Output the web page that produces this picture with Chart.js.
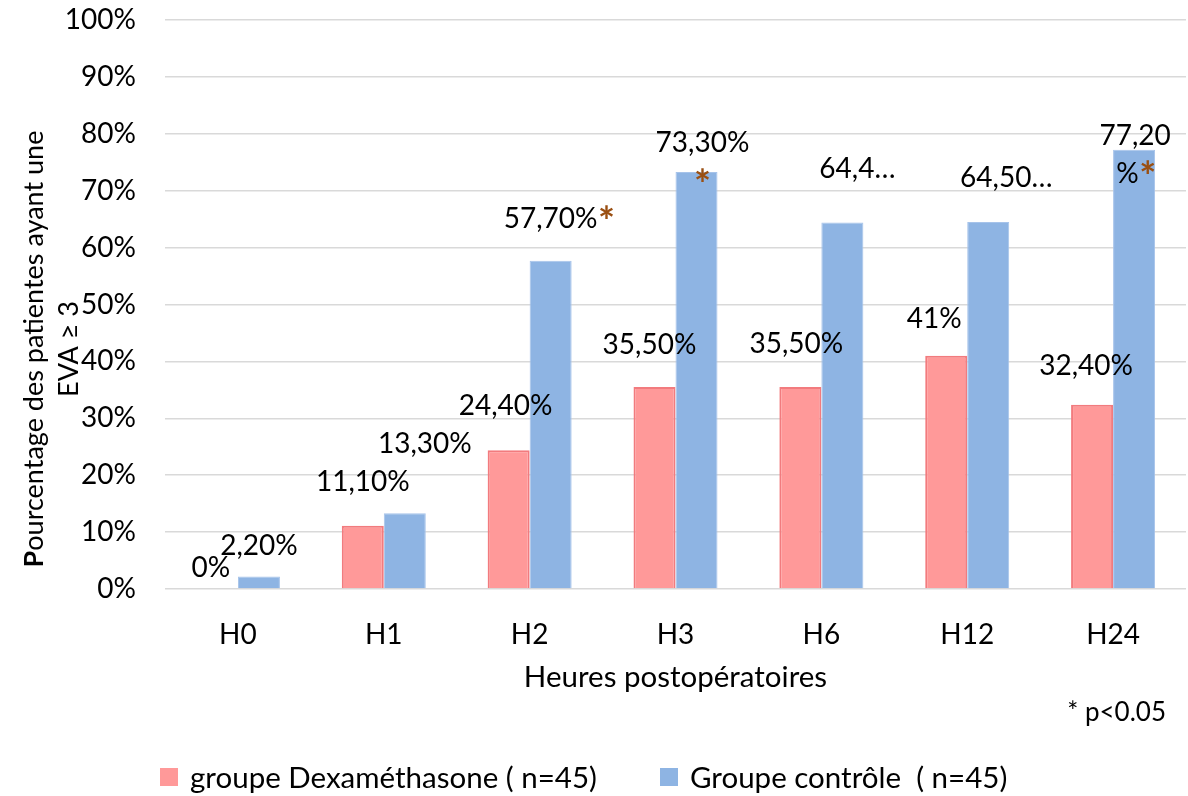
<!DOCTYPE html>
<html>
<head>
<meta charset="utf-8">
<script src="https://cdn.jsdelivr.net/npm/chart.js@4.4.0/dist/chart.umd.min.js"></script>
<style>
  html, body { margin: 0; padding: 0; background: #ffffff; }
  #wrap { width: 1188px; height: 796px; }
</style>
</head>
<body>
<div id="wrap"><canvas id="chart" width="1188" height="796"></canvas></div>
<script>
// Categories and series values (percent of patients with EVA >= 3)
const categories = ['H0', 'H1', 'H2', 'H3', 'H6', 'H12', 'H24'];
const dexamethasone = [0, 11.1, 24.4, 35.5, 35.5, 41, 32.4];
const controle = [2.2, 13.3, 57.7, 73.3, 64.4, 64.5, 77.2];
const controleSignificatif = [false, false, true, true, false, false, true];
const yTicks = [0, 10, 20, 30, 40, 50, 60, 70, 80, 90, 100];
const seriesNames = ['groupe Dexaméthasone ( n=45)', 'Groupe contrôle  ( n=45)'];
const axisTitleX = 'Heures postopératoires';
const axisTitleY = ['Pourcentage des patientes ayant une', 'EVA \u2265 3'];
const noteText = '* p<0.05';

// Styling
const FONT = 'Lato, "Open Sans", sans-serif';
const FS = 28;          // ticks and value labels
const FS_TEXT = 29.5;   // x title and legend
const FS_YTITLE = 27;
const TEXT = '#000000';
const STAR = '#9A4F12';
const RED_FILL = '#FF9999', RED_EDGE = '#F27B7E';
const BLUE_FILL = '#8EB4E3', BLUE_EDGE = '#A6C3EA';

// Label anchor offsets [dx, dy to baseline] from each bar's top centre
const dexLabelPos = [[-6, -12], [0, -35], [-3, -35], [-5, -33], [-4, -34], [-12, -28], [-6, -30]];
const ctrlLabelPos = [[0, -21.5], [20, -60], [0, -33], [6, -20], [15, -44.6], [18, -35], [1, -5]];
// How the narrow label boxes show some control values
const ctrlLabelFit = [null, null, null, null, {cut: 4}, {cut: 5}, {wrap: 5}];
const starPlacement = [null, null, 'after', 'below', null, null, 'after'];

function pct(v) {
  return Number.isInteger(v) ? v + '%' : v.toFixed(2).replace('.', ',') + '%';
}

// Draws a bold brown asterisk with its glyph box centred on (cx, cy)
function drawStar(ctx, cx, cy) {
  ctx.save();
  ctx.font = `bold 40px ${FONT}`;
  ctx.fillStyle = STAR;
  ctx.textAlign = 'left';
  ctx.textBaseline = 'alphabetic';
  const m = ctx.measureText('*');
  const w = m.actualBoundingBoxRight + m.actualBoundingBoxLeft;
  const h = m.actualBoundingBoxAscent + m.actualBoundingBoxDescent;
  const x = cx - w / 2 + m.actualBoundingBoxLeft;
  const y = cy + h / 2 - m.actualBoundingBoxDescent;
  ctx.fillText('*', x, y);
  ctx.restore();
}

const labelsPlugin = {
  id: 'valueLabels',
  afterDatasetsDraw(chart) {
    const ctx = chart.ctx;
    ctx.save();
    ctx.textBaseline = 'alphabetic';
    ctx.fillStyle = TEXT;
    const normal = `${FS}px ${FONT}`;

    // Dexaméthasone labels
    chart.getDatasetMeta(0).data.forEach((bar, i) => {
      const [dx, dy] = dexLabelPos[i];
      ctx.font = normal;
      ctx.textAlign = 'center';
      ctx.fillStyle = TEXT;
      ctx.fillText(pct(dexamethasone[i]), bar.x + dx, bar.y + dy);
    });

    // Control labels
    chart.getDatasetMeta(1).data.forEach((bar, i) => {
      const [dx, dy] = ctrlLabelPos[i];
      const cx = bar.x + dx, by = bar.y + dy;
      const full = pct(controle[i]);
      const fit = ctrlLabelFit[i];
      const star = controleSignificatif[i] ? starPlacement[i] : null;
      ctx.font = normal;
      ctx.textAlign = 'left';
      let lines;
      if (fit && fit.cut) lines = [full.slice(0, fit.cut) + '\u2026'];
      else if (fit && fit.wrap) lines = [full.slice(0, fit.wrap), full.slice(fit.wrap)];
      else lines = [full];

      lines.forEach((line, k) => {
        const y = by + k * 38;
        const isLast = k === lines.length - 1;
        ctx.font = normal;
        const w = ctx.measureText(line).width;
        const sw = (isLast && star === 'after') ? 15 : 0;
        const x0 = lines.length > 1 ? cx - (w + sw) / 2 : cx - w / 2;
        ctx.fillStyle = TEXT;
        ctx.fillText(line, x0, y);
        if (isLast && star === 'after') {
          drawStar(ctx, x0 + w + 9, y - 15.5);
        }
      });
      if (star === 'below') {
        drawStar(ctx, cx, bar.y + 3);
      }
    });
    ctx.restore();
  },
  afterDraw(chart) {
    const ctx = chart.ctx;
    ctx.save();
    ctx.fillStyle = TEXT;
    ctx.textBaseline = 'alphabetic';

    // Rotated y-axis title, first letter in bold
    const yc = 349;
    const fN = `${FS_YTITLE}px ${FONT}`, fB = `bold ${FS_YTITLE}px ${FONT}`;
    const drawRotated = (text, bx, boldFirst) => {
      ctx.save();
      ctx.translate(bx, yc);
      ctx.rotate(-Math.PI / 2);
      ctx.textAlign = 'left';
      if (boldFirst) {
        ctx.font = fB;
        const wb = ctx.measureText(text[0]).width;
        ctx.font = fN;
        const wr = ctx.measureText(text.slice(1)).width;
        const start = -(wb + wr) / 2;
        ctx.font = fB;
        ctx.fillText(text[0], start, 0);
        ctx.font = fN;
        ctx.fillText(text.slice(1), start + wb, 0);
      } else {
        ctx.font = fN;
        ctx.textAlign = 'center';
        ctx.fillText(text, 0, 0);
      }
      ctx.restore();
    };
    drawRotated(axisTitleY[0], 43, true);
    drawRotated(axisTitleY[1], 78, false);

    // Significance note
    ctx.font = `${FS - 2}px ${FONT}`;
    ctx.textAlign = 'right';
    ctx.fillText(noteText, 1166, 721);

    // Legend
    const items = [
      {x: 160, fill: RED_FILL, text: seriesNames[0]},
      {x: 660, fill: BLUE_FILL, text: seriesNames[1]}
    ];
    items.forEach(it => {
      ctx.fillStyle = it.fill;
      ctx.fillRect(it.x, 768, 18, 18);
      ctx.fillStyle = TEXT;
      ctx.font = `${FS_TEXT}px ${FONT}`;
      ctx.textAlign = 'left';
      ctx.fillText(it.text, it.x + 30, 788);
    });
    ctx.restore();
  }
};

new Chart(document.getElementById('chart'), {
  type: 'bar',
  data: {
    labels: categories,
    datasets: [
      {
        label: seriesNames[0],
        data: dexamethasone,
        backgroundColor: RED_FILL,
        borderColor: RED_EDGE,
        borderWidth: 2,
        barPercentage: 1,
        categoryPercentage: 0.576
      },
      {
        label: seriesNames[1],
        data: controle,
        backgroundColor: BLUE_FILL,
        borderColor: BLUE_EDGE,
        borderWidth: 1,
        barPercentage: 1,
        categoryPercentage: 0.576
      }
    ]
  },
  options: {
    responsive: false,
    animation: false,
    devicePixelRatio: 1,
    layout: { padding: { left: 0, right: 2, top: 20, bottom: 0 } },
    plugins: {
      legend: { display: false },
      tooltip: { enabled: false },
      title: { display: false }
    },
    scales: {
      x: {
        grid: { display: false, drawTicks: false },
        border: { display: false },
        ticks: {
          color: TEXT,
          padding: 29,
          font: { family: FONT, size: FS }
        },
        title: {
          display: true,
          text: axisTitleX,
          color: TEXT,
          font: { family: FONT, size: FS_TEXT },
          padding: { top: 0, bottom: 101 }
        },
        afterFit(scale) { scale.height = 207; }
      },
      y: {
        min: 0,
        max: 100,
        grid: { color: '#D9D9D9', lineWidth: 1.5, drawTicks: false },
        border: { display: false },
        afterBuildTicks(scale) { scale.ticks = yTicks.map(v => ({ value: v })); },
        ticks: {
          color: TEXT,
          padding: 29,
          font: { family: FONT, size: FS },
          callback: v => v + '%'
        },
        afterFit(scale) {
          scale.width = 165;
          scale.paddingTop = 0;
          scale.paddingBottom = 0;
        }
      }
    }
  },
  plugins: [labelsPlugin]
});
</script>
</body>
</html>
